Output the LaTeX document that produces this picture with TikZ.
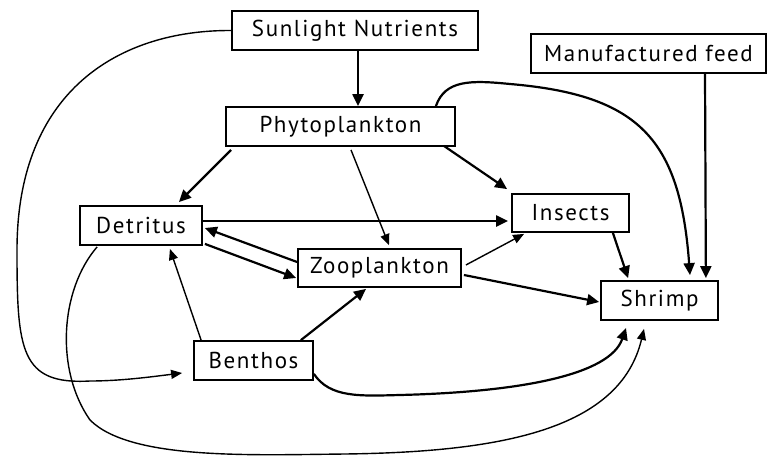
\documentclass[tikz,border=0pt]{standalone}
\usepackage{fontspec}
\setmainfont{PT Sans}[LetterSpace=7]
\usetikzlibrary{arrows.meta, calc}

\tikzset{
  box/.style={draw, line width=1.8pt, inner sep=0pt, minimum height=39pt, font=\fontsize{23}{26}\selectfont},
  flow/.style={line width=2.2pt, -{Triangle[length=12pt,width=11pt]}},
  weak/.style={line width=1.4pt, -{Triangle[length=11pt,width=9pt]}}
}

\begin{document}
\begin{tikzpicture}[x=1pt,y=-1pt]
\useasboundingbox (0,0) rectangle (768,455);
\node[box, minimum width=246pt] (sun) at (355,30.5) {Sunlight Nutrients};
\node[box, minimum width=235pt] (feed) at (648.5,53.5) {Manufactured feed};
\node[box, minimum width=229pt] (phyto) at (340.5,126.5) {Phytoplankton};
\node[box, minimum width=122pt] (detritus) at (141,225.5) {Detritus};
\node[box, minimum width=117pt, minimum height=38pt] (insects) at (570.5,213) {Insects};
\node[box, minimum width=163pt, minimum height=38pt] (zoo) at (379.5,268) {Zooplankton};
\node[box, minimum width=117pt] (shrimp) at (659.5,300.5) {Shrimp};
\node[box, minimum width=119pt] (benthos) at (253.5,360.5) {Benthos};

\draw[flow] ($(sun.south)+(3,0)$) -- ($(phyto.north)+(17.5,0)$);
\draw[weak] (sun.west) .. controls (120,30) and (17,90) .. (17,250) .. controls (17,350) and (20,385) .. (90,381) .. controls (120,381) and (150,377) .. ($(benthos.west)+(-11,12.5)$);
\draw[flow] ($(phyto.south west)+(6,3)$) -- ($(detritus.north east)+(-24,-3)$);
\draw[weak] ($(phyto.south)+(10.5,3)$) -- ($(zoo.north)+(9.5,-3)$);
\draw[flow] ($(phyto.south east)+(-12,-1)$) -- ($(insects.north west)+(-4,-4)$);
\draw[flow] ($(phyto.north east)+(-20,0)$) .. controls (445,80) and (470,80) .. (510,84) .. controls (640,95) and (680,140) .. ($(shrimp.north)+(30.5,-5)$);
\draw[flow] ($(feed.south)+(56.5,0)$) -- ($(shrimp.north east)+(-13,-2)$);
\draw[flow] ($(detritus.east)+(0,-4.5)$) -- ($(insects.west)+(-3,8)$);
\draw[flow] ($(zoo.west)+(0,-6)$) -- ($(detritus.east)+(2,2.5)$);
\draw[flow] ($(detritus.south east)+(2,-2)$) -- ($(zoo.west)+(-1,10)$);
\draw[weak] ($(zoo.east)+(4,-3)$) -- ($(insects.south west)+(13,1)$);
\draw[flow] ($(zoo.east)+(2,7)$) -- ($(shrimp.west)+(-1,1.5)$);
\draw[flow] ($(insects.south east)+(-17,0)$) -- ($(shrimp.north west)+(28,-2)$);
\draw[weak] ($(benthos.north west)+(8,0)$) -- ($(detritus.south east)+(-33,3)$);
\draw[flow] ($(benthos.north east)+(-13,0)$) -- ($(zoo.south)+(-13.5,1)$);
\draw[flow] ($(benthos.south east)+(0,-7)$) .. controls (330,398) and (360,396) .. (400,395) .. controls (520,392) and (610,375) .. ($(shrimp.south)+(-33.5,7)$);
\draw[weak] ($(detritus.south west)+(18,1)$) .. controls (60,290) and (55,370) .. (90,420) .. controls (130,460) and (250,455) .. (345,454) .. controls (500,452) and (620,430) .. ($(shrimp.south)+(-15.5,8)$);
\end{tikzpicture}
\end{document}
